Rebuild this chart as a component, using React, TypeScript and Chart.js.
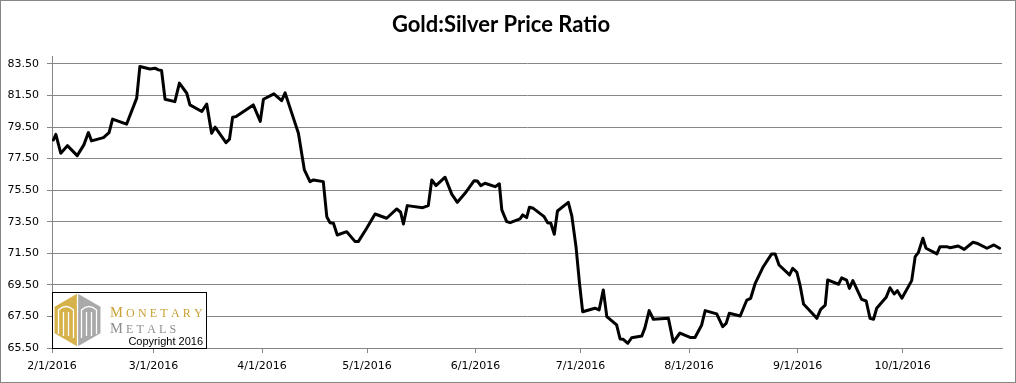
import { useEffect, useRef } from 'react';
import { Chart, registerables } from 'chart.js';

Chart.register(...registerables);

// Days since 2/1/2016
const dayOffsets = [
  0.4, 1.1, 2.5, 4.4, 7.2, 9.1, 10.4, 11.3, 14.7, 16.3, 17.3, 21.3, 24.2, 25.1, 28.0, 29.4, 30.4, 31.3, 32.3, 35.1,
  36.4, 38.5, 39.4, 42.8, 44.2, 45.6, 46.6, 49.7, 50.7, 51.6, 52.6, 57.5, 59.5, 60.4, 63.4, 65.6, 66.6, 68.5, 70.4, 72.1,
  73.7, 74.7, 77.5, 78.5, 79.4, 80.4, 81.5, 84.2, 86.6, 87.5, 89.9, 92.3, 95.6, 98.5, 99.6, 100.4, 101.5, 105.9, 107.5, 108.5,
  109.7, 112.3, 114.2, 115.8, 118.0, 120.6, 121.5, 122.5, 123.7, 126.6, 127.8, 128.5, 129.9, 130.9, 133.7, 134.5, 135.6, 136.4, 137.5, 140.6,
  141.6, 142.5, 143.5, 144.4, 147.5, 148.5, 149.7, 150.7, 151.6, 155.1, 156.3, 157.5, 158.5, 161.3, 162.3, 163.2, 164.5, 165.6, 168.5, 169.4,
  170.6, 171.8, 176.1, 177.5, 179.4, 182.3, 183.7, 185.6, 186.6, 189.9, 191.6, 192.6, 193.5, 196.6, 198.5, 199.6, 200.9, 203.2, 205.6, 206.6,
  207.7, 210.7, 211.6, 212.8, 213.7, 214.7, 218.5, 219.6, 220.9, 221.6, 224.7, 225.6, 227.0, 227.8, 228.8, 231.3, 232.6, 233.7, 234.7, 235.6,
  238.3, 239.4, 240.6, 241.5, 242.8, 245.6, 246.6, 247.5, 248.8, 249.7, 252.8, 253.7, 255.6, 256.6, 258.9, 260.6, 263.1, 264.2, 267.1, 269.1,
  270.7,
];

// Gold:Silver ratio values
const ratioValues = [
  78.68, 79.04, 77.84, 78.32, 77.69, 78.37, 79.15, 78.62, 78.83, 79.15, 80.0, 79.68, 81.33, 83.33, 83.18, 83.23, 83.12, 83.08, 81.26, 81.11,
  82.28, 81.64, 80.9, 80.48, 80.96, 79.11, 79.49, 78.51, 78.73, 80.12, 80.16, 80.9, 79.86, 81.26, 81.6, 81.17, 81.66, 80.38, 79.11, 76.78,
  76.04, 76.15, 76.04, 73.82, 73.44, 73.4, 72.66, 72.87, 72.24, 72.24, 73.09, 73.99, 73.72, 74.31, 74.1, 73.36, 74.52, 74.39, 74.52, 76.15,
  75.79, 76.32, 75.25, 74.73, 75.3, 76.1, 76.08, 75.79, 75.94, 75.72, 75.9, 74.25, 73.51, 73.44, 73.68, 73.93, 73.76, 74.42, 74.35, 73.82,
  73.44, 73.4, 72.71, 74.18, 74.73, 73.87, 71.92, 69.6, 67.8, 68.02, 67.91, 69.18, 67.49, 66.96, 66.07, 66.05, 65.8, 66.15, 66.26, 66.79,
  67.87, 67.32, 67.38, 65.87, 66.45, 66.17, 66.17, 66.96, 67.87, 67.66, 66.85, 67.06, 67.7, 67.53, 68.54, 68.65, 69.6, 70.65, 71.46, 71.46,
  70.76, 70.13, 70.55, 70.3, 69.49, 68.29, 67.38, 67.95, 68.22, 69.81, 69.54, 69.94, 69.8, 69.28, 69.77, 68.58, 68.48, 67.38, 67.32, 68.02,
  68.71, 69.32, 68.92, 69.13, 68.65, 69.77, 71.29, 71.54, 72.45, 71.82, 71.46, 71.92, 71.92, 71.85, 71.96, 71.75, 72.2, 72.14, 71.82, 72.03,
  71.82,
];

const monthTickDays = [0, 29, 60, 90, 121, 151, 182, 213, 243];
const monthTickLabels = ['2/1/2016', '3/1/2016', '4/1/2016', '5/1/2016', '6/1/2016', '7/1/2016', '8/1/2016', '9/1/2016', '10/1/2016'];
const yTickValues = [65.5, 67.5, 69.5, 71.5, 73.5, 75.5, 77.5, 79.5, 81.5, 83.5];

const GRID = '#868686';

function drawSmallCaps(
  ctx: CanvasRenderingContext2D,
  text: string,
  x: number,
  y: number,
  big: number,
  small: number,
  spacing: number,
  color: string,
) {
  ctx.fillStyle = color;
  ctx.textAlign = 'left';
  ctx.textBaseline = 'alphabetic';
  let cx = x;
  for (let i = 0; i < text.length; i++) {
    ctx.font = `${i === 0 ? big : small}px "Liberation Serif"`;
    ctx.fillText(text[i], cx, y);
    cx += ctx.measureText(text[i]).width + spacing;
  }
}

const decorPlugin = {
  id: 'decor',
  beforeDraw(chart: any) {
    const ctx = chart.ctx as CanvasRenderingContext2D;
    ctx.save();
    ctx.fillStyle = '#fff';
    ctx.fillRect(0, 0, chart.width, chart.height);
    ctx.strokeStyle = GRID;
    ctx.lineWidth = 1;
    ctx.strokeRect(0.5, 0.5, chart.width - 1, chart.height - 1);
    ctx.restore();
  },
  afterDraw(chart: any) {
    const ctx = chart.ctx as CanvasRenderingContext2D;
    ctx.save();
    // logo box
    ctx.fillStyle = '#fff';
    ctx.fillRect(52, 292, 154, 56);
    ctx.strokeStyle = '#000';
    ctx.lineWidth = 1;
    ctx.strokeRect(52.5, 292.5, 154, 56);

    // hexagon
    const cx = 77.5;
    const cy = 320;
    const R = 26.5;
    const hw = (R * Math.sqrt(3)) / 2;
    ctx.fillStyle = '#d6b24a';
    ctx.beginPath();
    ctx.moveTo(cx, cy - R);
    ctx.lineTo(cx - hw, cy - R / 2);
    ctx.lineTo(cx - hw, cy + R / 2);
    ctx.lineTo(cx, cy + R);
    ctx.closePath();
    ctx.fill();
    ctx.fillStyle = '#a9a9a9';
    ctx.beginPath();
    ctx.moveTo(cx, cy - R);
    ctx.lineTo(cx + hw, cy - R / 2);
    ctx.lineTo(cx + hw, cy + R / 2);
    ctx.lineTo(cx, cy + R);
    ctx.closePath();
    ctx.fill();

    ctx.strokeStyle = '#fff';
    ctx.lineWidth = 1.3;
    ctx.beginPath();
    ctx.moveTo(cx, cy - R);
    ctx.lineTo(cx, cy + R);
    ctx.stroke();
    for (const s of [-1, 1]) {
      const a = cx + s * 19;
      const b = cx + s * 4;
      ctx.beginPath();
      ctx.moveTo(a, cy + 14);
      ctx.lineTo(a, cy - 10);
      ctx.quadraticCurveTo((a + b) / 2, cy - 17, b, cy - 10);
      ctx.lineTo(b, cy + 18);
      ctx.stroke();
      for (const off of [14, 9]) {
        const xx = cx + s * off;
        ctx.beginPath();
        ctx.moveTo(xx, cy - 8);
        ctx.lineTo(xx, cy + 16);
        ctx.stroke();
      }
    }

    drawSmallCaps(ctx, 'MONETARY', 110, 317, 14.5, 12, 3.2, '#c9a033');
    drawSmallCaps(ctx, 'METALS', 110, 333, 14.5, 12, 3.2, '#8e8e8e');

    ctx.fillStyle = '#000';
    ctx.font = '11px "Liberation Sans"';
    ctx.textAlign = 'right';
    ctx.textBaseline = 'alphabetic';
    ctx.fillText('Copyright 2016', 203, 345);
    ctx.restore();
  },
};

export default function App() {
  const canvasRef = useRef<HTMLCanvasElement | null>(null);

  useEffect(() => {
    document.body.style.margin = '0';
    const canvas = canvasRef.current;
    if (!canvas) return;
    const chart = new Chart(canvas, {
      type: 'line',
      data: {
        datasets: [
          {
            label: 'Gold:Silver Price Ratio',
            data: dayOffsets.map((d, i) => ({ x: d, y: ratioValues[i] })),
            borderColor: '#000',
            borderWidth: 3,
            pointRadius: 0,
            tension: 0,
            borderJoinStyle: 'round',
            borderCapStyle: 'round',
            fill: false,
          },
        ],
      },
      options: {
        animation: false,
        responsive: false,
        events: [],
        layout: { padding: { left: 0, right: 14, top: 0, bottom: 0 } },
        plugins: {
          legend: { display: false },
          tooltip: { enabled: false },
          title: {
            display: true,
            text: 'Gold:Silver Price Ratio',
            color: '#000',
            font: { family: 'Lato', size: 22, weight: 'bold' },
            padding: { top: 12, bottom: 17.6 },
          },
        },
        scales: {
          x: {
            type: 'linear',
            min: 0,
            max: 271.4,
            afterBuildTicks: (s: any) => {
              s.ticks = monthTickDays.map((v) => ({ value: v }));
            },
            afterFit: (s: any) => {
              s.height = 35;
            },
            ticks: {
              autoSkip: false,
              maxRotation: 0,
              minRotation: 0,
              color: '#000',
              padding: 7,
              font: { family: 'DejaVu Sans', size: 11 },
              callback: (_v: any, i: number) => monthTickLabels[i],
            },
            grid: { drawOnChartArea: false, drawTicks: true, tickLength: 5, color: GRID },
            border: { display: true, color: GRID },
          },
          y: {
            type: 'linear',
            min: 65.5,
            max: 84,
            afterBuildTicks: (s: any) => {
              s.ticks = yTickValues.map((v) => ({ value: v }));
            },
            afterFit: (s: any) => {
              s.width = 52;
            },
            ticks: {
              color: '#000',
              padding: 8,
              font: { family: 'DejaVu Sans', size: 11 },
              callback: (v: any) => Number(v).toFixed(2),
            },
            grid: { drawTicks: true, tickLength: 5, color: GRID },
            border: { display: true, color: GRID },
          },
        },
      },
      plugins: [decorPlugin],
    } as any);
    return () => chart.destroy();
  }, []);

  return (
    <div style={{ position: 'fixed', left: 0, top: 0, width: 1016, height: 383 }}>
      <canvas ref={canvasRef} width={1016} height={383} style={{ display: 'block', width: 1016, height: 383 }} />
    </div>
  );
}
